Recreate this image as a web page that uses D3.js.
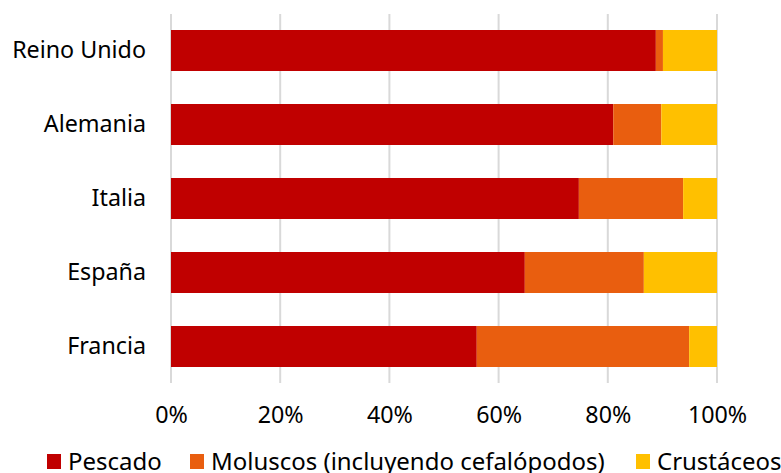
<!DOCTYPE html>
<html><head><meta charset="utf-8">
<script src="https://cdn.jsdelivr.net/npm/d3@7"></script>
<style>body{margin:0;background:#fff}svg text{font-family:"Noto Sans",sans-serif;fill:#000}</style>
</head><body><svg id="c" width="781" height="473"></svg>
<script>
const categories = ["Reino Unido","Alemania","Italia","España","Francia"];
const seriesNames = ["Pescado","Moluscos (incluyendo cefalópodos)","Crustáceos"];
const pescado   = [0.888,0.810,0.747,0.648,0.560];
const moluscos  = [0.013,0.088,0.191,0.218,0.389];
const crustaceos= [0.099,0.102,0.062,0.134,0.051];
const tickValues = [0,0.2,0.4,0.6,0.8,1.0];
const colors = ["#C00000","#E95E0F","#FFC000"];

const svg = d3.select("#c");
const x = d3.scaleLinear().domain([0,1]).range([171,717]);
const y = d3.scaleBand().domain(categories).range([13.5,383.5]).paddingInner(0.446).paddingOuter(0.223);

// font size fitting helper
function fitSize(text, targetWidth){
  const t = svg.append("text").attr("font-size",20).text(text);
  const w = t.node().getComputedTextLength();
  t.remove();
  return 20*targetWidth/w;
}
const axisFont = fitSize("Reino Unido",134);
const legendFont = fitSize("Moluscos (incluyendo cefalópodos)",394);

// gridlines
svg.append("g").selectAll("line").data(tickValues).join("line")
  .attr("x1",d=>x(d)).attr("x2",d=>x(d)).attr("y1",14).attr("y2",383)
  .attr("stroke","#d9d9d9").attr("stroke-width",2);

const data = categories.map((c,i)=>({cat:c,"0":pescado[i],"1":moluscos[i],"2":crustaceos[i]}));
const stack = d3.stack().keys(["0","1","2"])(data);
svg.append("g").selectAll("g").data(stack).join("g")
  .attr("fill",(d,i)=>colors[i])
  .selectAll("rect").data(d=>d).join("rect")
  .attr("x",d=>x(d[0])).attr("width",d=>x(d[1])-x(d[0]))
  .attr("y",d=>y(d.data.cat)).attr("height",y.bandwidth());

// x axis labels
const xa = svg.append("g").attr("transform","translate(0,383)")
  .call(d3.axisBottom(x).tickValues(tickValues).tickFormat(d3.format(".0%")).tickSize(0).tickPadding(0));
xa.select(".domain").remove();
xa.selectAll("text").attr("font-size",axisFont).attr("dy",null).attr("y",40).attr("fill","#000");

// y axis labels
const ya = svg.append("g").attr("transform","translate(171,0)")
  .call(d3.axisLeft(y).tickSize(0).tickPadding(25));
ya.select(".domain").remove();
ya.selectAll("text").attr("font-size",axisFont).attr("dy","0.3em").attr("fill","#000");

// legend
const legX = [47,190,636];
const lg = svg.append("g");
seriesNames.forEach((s,i)=>{
  lg.append("rect").attr("x",legX[i]).attr("y",454).attr("width",14).attr("height",15).attr("fill",colors[i]);
  lg.append("text").attr("x",legX[i]+21).attr("y",470).attr("font-size",legendFont).text(s);
});
</script></body></html>
